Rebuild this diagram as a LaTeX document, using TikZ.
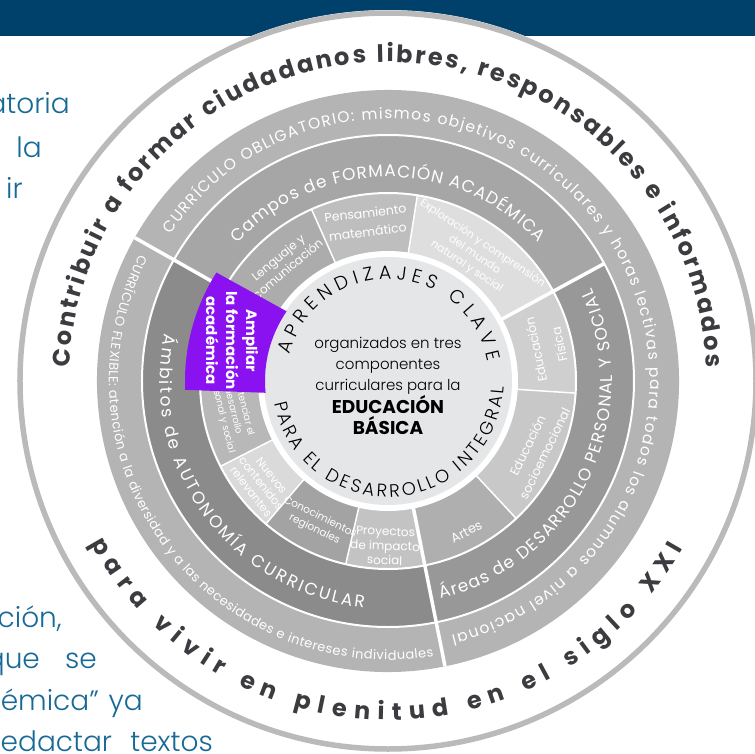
\documentclass[tikz,border=0pt]{standalone}
\usepackage{fontspec}
\setmainfont{Poppins}
\IfFontExistsTF{Poppins Light}{\newfontfamily\lightfont{Poppins Light}}{\newfontfamily\lightfont{Poppins}}
\usetikzlibrary{decorations.text}

\definecolor{navy}{RGB}{0,65,107}
\definecolor{bodyblue}{RGB}{24,106,150}
\definecolor{rimgray}{RGB}{186,186,186}
\definecolor{inkgray}{RGB}{60,60,64}
\definecolor{curric}{RGB}{180,180,180}
\definecolor{campos}{RGB}{166,166,166}
\definecolor{ambitos}{RGB}{139,139,139}
\definecolor{areas}{RGB}{152,152,152}
\definecolor{core}{RGB}{229,230,231}
\definecolor{amplia}{RGB}{138,18,240}

\newcommand\ringcell[5]{\fill[#5] (#3:#2) arc[start angle=#3,end angle=#4,radius=#2]
  -- (#4:#1) arc[start angle=#4,end angle=#3,radius=#1] -- cycle;}
\newcommand\ringtext[5]{\path[decorate,decoration={text along path,text align=fit to path,
  text color=#4,text={#5}}] (#2:#1) arc[start angle=#2,end angle=#3,radius=#1];}

\tikzset{
  cell/.style={text=white,align=center,inner sep=0pt,font=\fontsize{13}{15}\selectfont},
  bodytxt/.style={text=bodyblue,inner sep=0pt,anchor=base east,font=\lightfont\fontsize{28}{30}\selectfont},
  gap/.style={white,line width=2pt},
  split/.style={white,line width=3.5pt},
  seam/.style={white,line width=1.5pt}
}

\begin{document}
\begin{tikzpicture}[x=1pt,y=1pt]
\useasboundingbox (-388,-372) rectangle (367,381);
\fill[navy] (-388,345) rectangle (367,381);
\fill[white] (0,0) circle[radius=371];
\draw[rimgray,line width=5.5pt] (0,0) circle[radius=368];

% texto lateral
\node[bodytxt] (atoria) at (-318,267) {atoria};
\node[bodytxt] (la) at (-346,224) {la};
\node[bodytxt] (ir) at (-365,183) {ir};
\node[bodytxt] (cion) at (-326,-246) {ción,};
\node[bodytxt] (quese) at (-291,-287) {que\hspace{0.9em}se};
\node[bodytxt] (emica) at (-245,-329) {émica”\hspace{0.35em}ya};
\node[bodytxt] (redactar) at (-175,-370) {redactar\hspace{0.65em}textos};

% anillos
\ringcell{246}{291}{-78.7}{281.3}{curric}
\ringcell{188}{246}{28.5}{150.5}{campos}
\ringcell{188}{246}{150.5}{281.3}{ambitos}
\ringcell{188}{246}{-78.7}{28.5}{areas}
\foreach \a/\b/\g in {28.5/81/87, 81/114/74.5, 114/150.5/67.5, 150.5/207/72, 207/229.5/85.5,
  229.5/257/64, 257/281.3/76.5, 281.3/313/68.5, 313/356.3/78.5, 356.3/388.5/81}
  {\ringcell{126}{188}{\a}{\b}{white!\g!black}}

\draw[gap] (0,0) circle[radius=246] (0,0) circle[radius=188];
\foreach \a in {81,114,207,229.5,257,313,356.3}
  \draw[seam] (\a:126) -- (\a:188);
\draw[split] (28.5:126) -- (28.5:246);
\draw[split] (-78.7:126) -- (-78.7:291);
\draw[split] (150.5:188) -- (150.5:291);

\fill[white] (0,0) circle[radius=130];
\fill[core] (0,0) circle[radius=124];

% campos
\node[cell,rotate=7,font=\fontsize{12.5}{19}\selectfont] (pensamiento) at (97.7:160) {Pensamiento\\matemático};
\node[cell,rotate=40,font=\fontsize{12}{15}\selectfont] (lenguaje) at (131.7:158) {Lenguaje y\\comunicación};
\node[cell,rotate=-34,font=\fontsize{11}{14}\selectfont] (exploracion) at (55.5:153) {Exploración y comprensión\\del mundo\\natural y social};
\node[cell,rotate=102,font=\fontsize{12.5}{24}\selectfont] (fisica) at (12:163) {Educación\\Física};
\node[cell,rotate=64,font=\fontsize{12.5}{19}\selectfont] (socioemocional) at (-24.8:163) {Educación\\socioemocional};
\node[cell,rotate=27] (artes) at (-62.5:170) {Artes};
\node[cell,rotate=-2,font=\fontsize{12}{14.5}\selectfont] (proyectos) at (269:165) {Proyectos\\de impacto\\social};
\node[cell,rotate=-26,font=\fontsize{10.5}{13}\selectfont] (conocimientos) at (243.6:159) {Conocimientos\\regionales};
\node[cell,rotate=-52,font=\fontsize{11.5}{13}\selectfont] (nuevos) at (219:163) {Nuevos\\contenidos\\relevantes};
\node[cell,rotate=-76,font=\fontsize{9.5}{11.5}\selectfont] (potenciar) at (191:158) {Potenciar el\\desarrollo\\personal y social};

\fill[amplia] (145.5:123) -- (147.7:203) arc[start angle=147.7,end angle=182.5,radius=203]
  -- (185.5:123) arc[start angle=185.5,end angle=145.5,radius=123] -- cycle;
\node[cell,rotate=-90,font=\bfseries\fontsize{15}{20}\selectfont] (ampliar) at (165.5:161) {Ampliar\\la formación\\académica};

% textos curvos
\ringtext{319}{177.5}{2.5}{inkgray}{|\bfseries\fontsize{24}{26}\selectfont|Contribuir a formar ciudadanos libres, responsables e informados}
\ringtext{339}{208.6}{330.5}{inkgray}{|\bfseries\fontsize{24}{26}\selectfont|para vivir en plenitud en el siglo XXI}
\ringtext{262}{146}{-76}{white}{|\fontsize{15.5}{17}\selectfont|CURRÍCULO OBLIGATORIO: mismos objetivos curriculares y horas lectivas para todos los alumnos a nivel nacional}
\ringtext{279}{153}{279.3}{white}{|\fontsize{13}{15}\selectfont|CURRÍCULO FLEXIBLE: atención a la diversidad y a las necesidades e intereses individuales}
\ringtext{204}{137.5}{42.5}{white}{|\fontsize{17}{19}\selectfont|Campos de FORMACIÓN ACADÉMICA}
\ringtext{228}{168}{264}{white}{|\fontsize{17}{19}\selectfont|Ámbitos de AUTONOMÍA CURRICULAR}
\ringtext{224}{-76.5}{24.5}{white}{|\fontsize{17}{19}\selectfont|Áreas de DESARROLLO PERSONAL Y SOCIAL}
\ringtext{102}{165}{11}{black}{|\lightfont\fontsize{19}{21}\selectfont|APRENDIZAJES CLAVE}
\ringtext{116}{191}{357}{black}{|\lightfont\fontsize{18}{20}\selectfont|PARA EL DESARROLLO INTEGRAL}

\node[align=center,inner sep=0pt,anchor=north,font=\lightfont\fontsize{15}{21}\selectfont] (organizados) at (0,44)
  {organizados en tres\\componentes\\curriculares para la\\{\rmfamily\bfseries\fontsize{18.5}{21}\selectfont EDUCACIÓN}\\{\rmfamily\bfseries\fontsize{18.5}{21}\selectfont BÁSICA}};
\end{tikzpicture}
\end{document}
